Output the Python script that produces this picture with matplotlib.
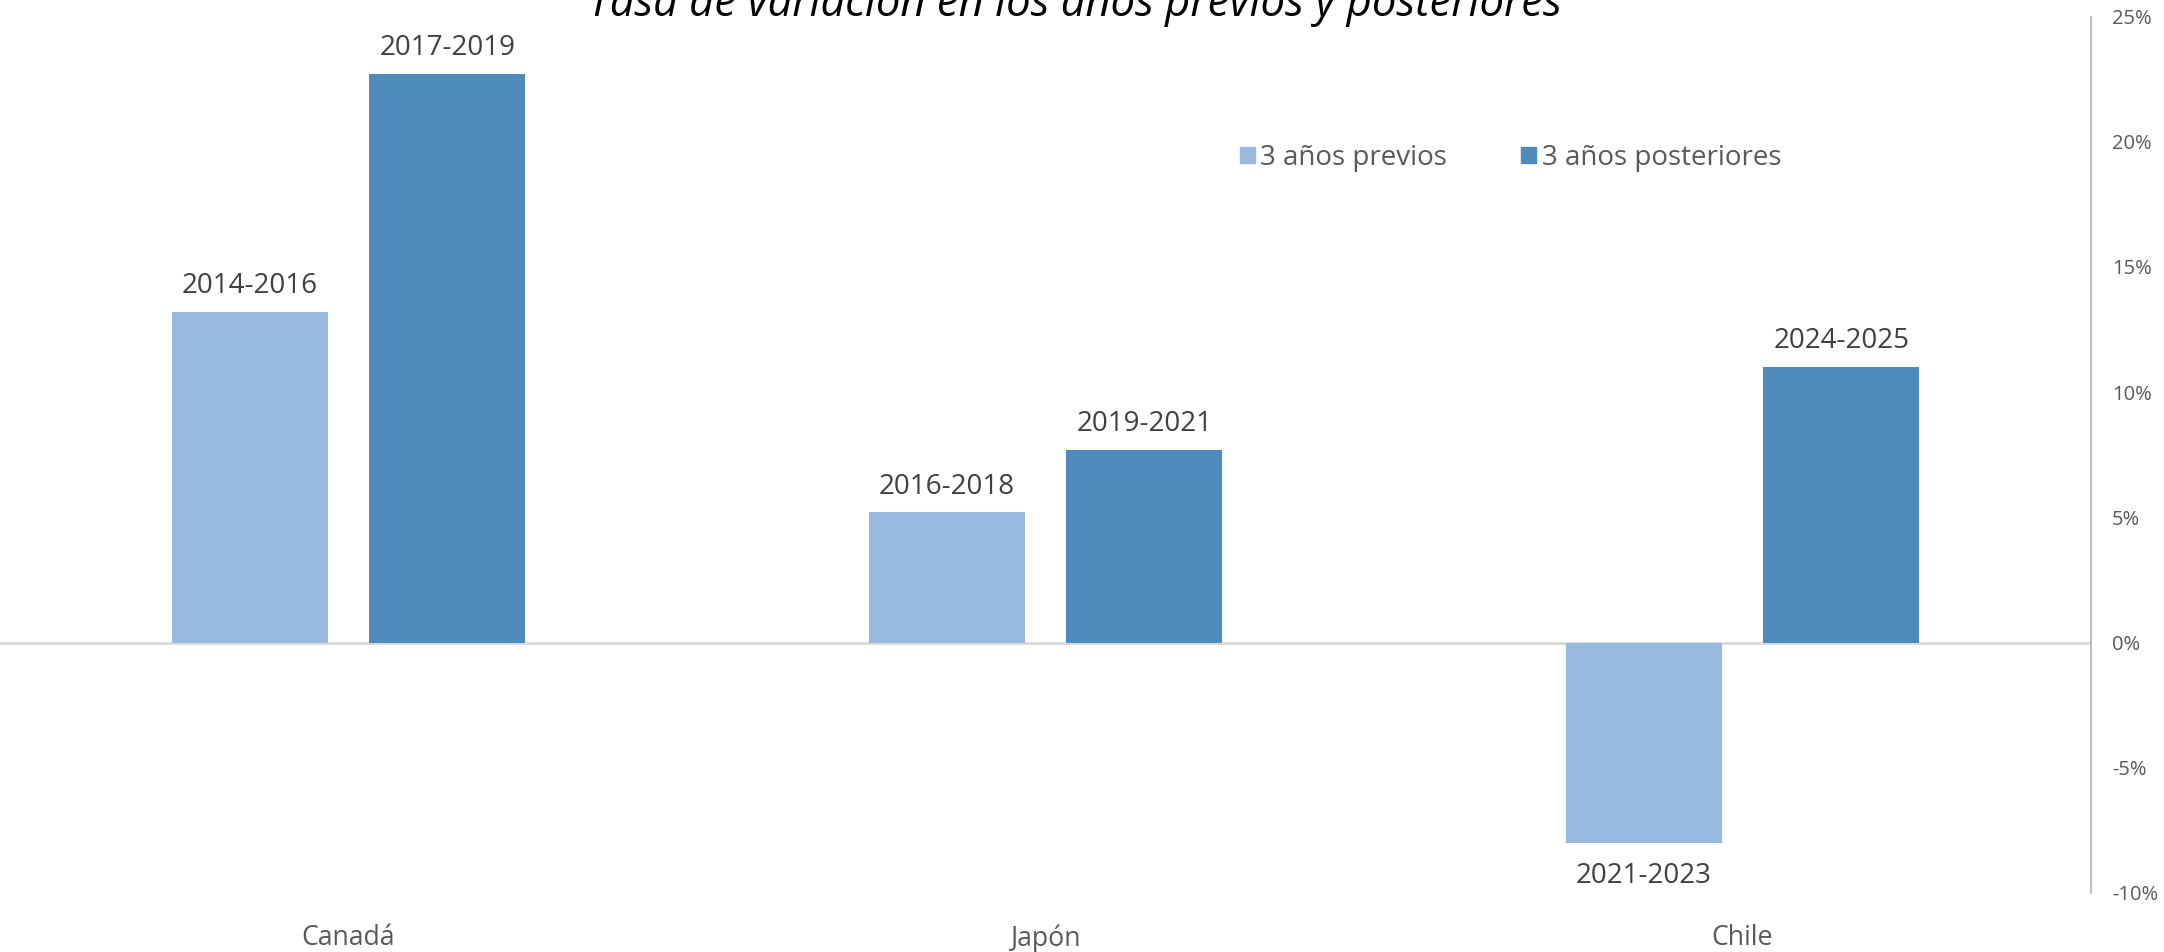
import matplotlib
matplotlib.use("Agg")
import matplotlib.pyplot as plt
from matplotlib.patches import Patch
import numpy as np

categories = ["Canadá", "Japón", "Chile"]
series_names = ["3 años previos", "3 años posteriores"]
prev_vals = [13.2, 5.2, -8.0]
post_vals = [22.7, 7.7, 11.0]
prev_labels = ["2014-2016", "2016-2018", "2021-2023"]
post_labels = ["2017-2019", "2019-2021", "2024-2025"]
yticks = [-10, -5, 0, 5, 10, 15, 20, 25]
title = "Tasa de variación en los años previos y posteriores"

c_prev = "#9AB9DF"
c_post = "#4F8ABD"
FONT = "Open Sans"

fig = plt.figure(figsize=(21.64, 9.52), dpi=100)
ax = fig.add_axes([0.0, 0.062, 0.9663, 0.9206])

x = np.arange(len(categories))
w = 0.224
off = 0.1416
b1 = ax.bar(x - off, prev_vals, w, color=c_prev, zorder=2)
b2 = ax.bar(x + off, post_vals, w, color=c_post, zorder=2)

for bars, labs in ((b1, prev_labels), (b2, post_labels)):
    for rect, lab in zip(bars, labs):
        h = rect.get_height()
        cx = rect.get_x() + rect.get_width() / 2
        dy = 18.5 if h >= 0 else -23.5
        ax.annotate(lab, (cx, h), xytext=(0, dy), textcoords="offset points",
                    ha="center", va="center", fontsize=20, color="#404040",
                    family=FONT)

ax.set_xlim(-0.5, 2.5)
ax.set_ylim(-10, 25)
ax.axhline(0, color="#D9D9D9", lw=2, zorder=1)

ax.yaxis.tick_right()
ax.set_yticks(yticks)
ax.set_yticklabels([f"{v}%" for v in yticks], family=FONT, fontsize=14.5, color="#595959")
ax.tick_params(axis="y", length=0, pad=15)
ax.set_xticks(x)
ax.set_xticklabels(categories, family=FONT, fontsize=19.2, color="#595959")
ax.tick_params(axis="x", length=0, pad=22.5)

for s in ("top", "left", "bottom"):
    ax.spines[s].set_visible(False)
ax.spines["right"].set_color("#BFBFBF")
ax.spines["right"].set_linewidth(1.5)

handles = [Patch(color=c_prev, label=series_names[0]), Patch(color=c_post, label=series_names[1])]
fig.legend(handles=handles, loc="center", bbox_to_anchor=(0.698, 0.834), ncol=2,
           frameon=False, prop={"family": FONT, "size": 20}, labelcolor="#595959",
           handlelength=0.54, handleheight=0.54, handletextpad=0.2, columnspacing=2.68)

fig.text(0.4965, 1 - 16 / 952, title, ha="center", va="baseline", fontsize=31.4,
         style="italic", family=FONT, color="#000000")

fig.savefig("out.png", dpi=100)
